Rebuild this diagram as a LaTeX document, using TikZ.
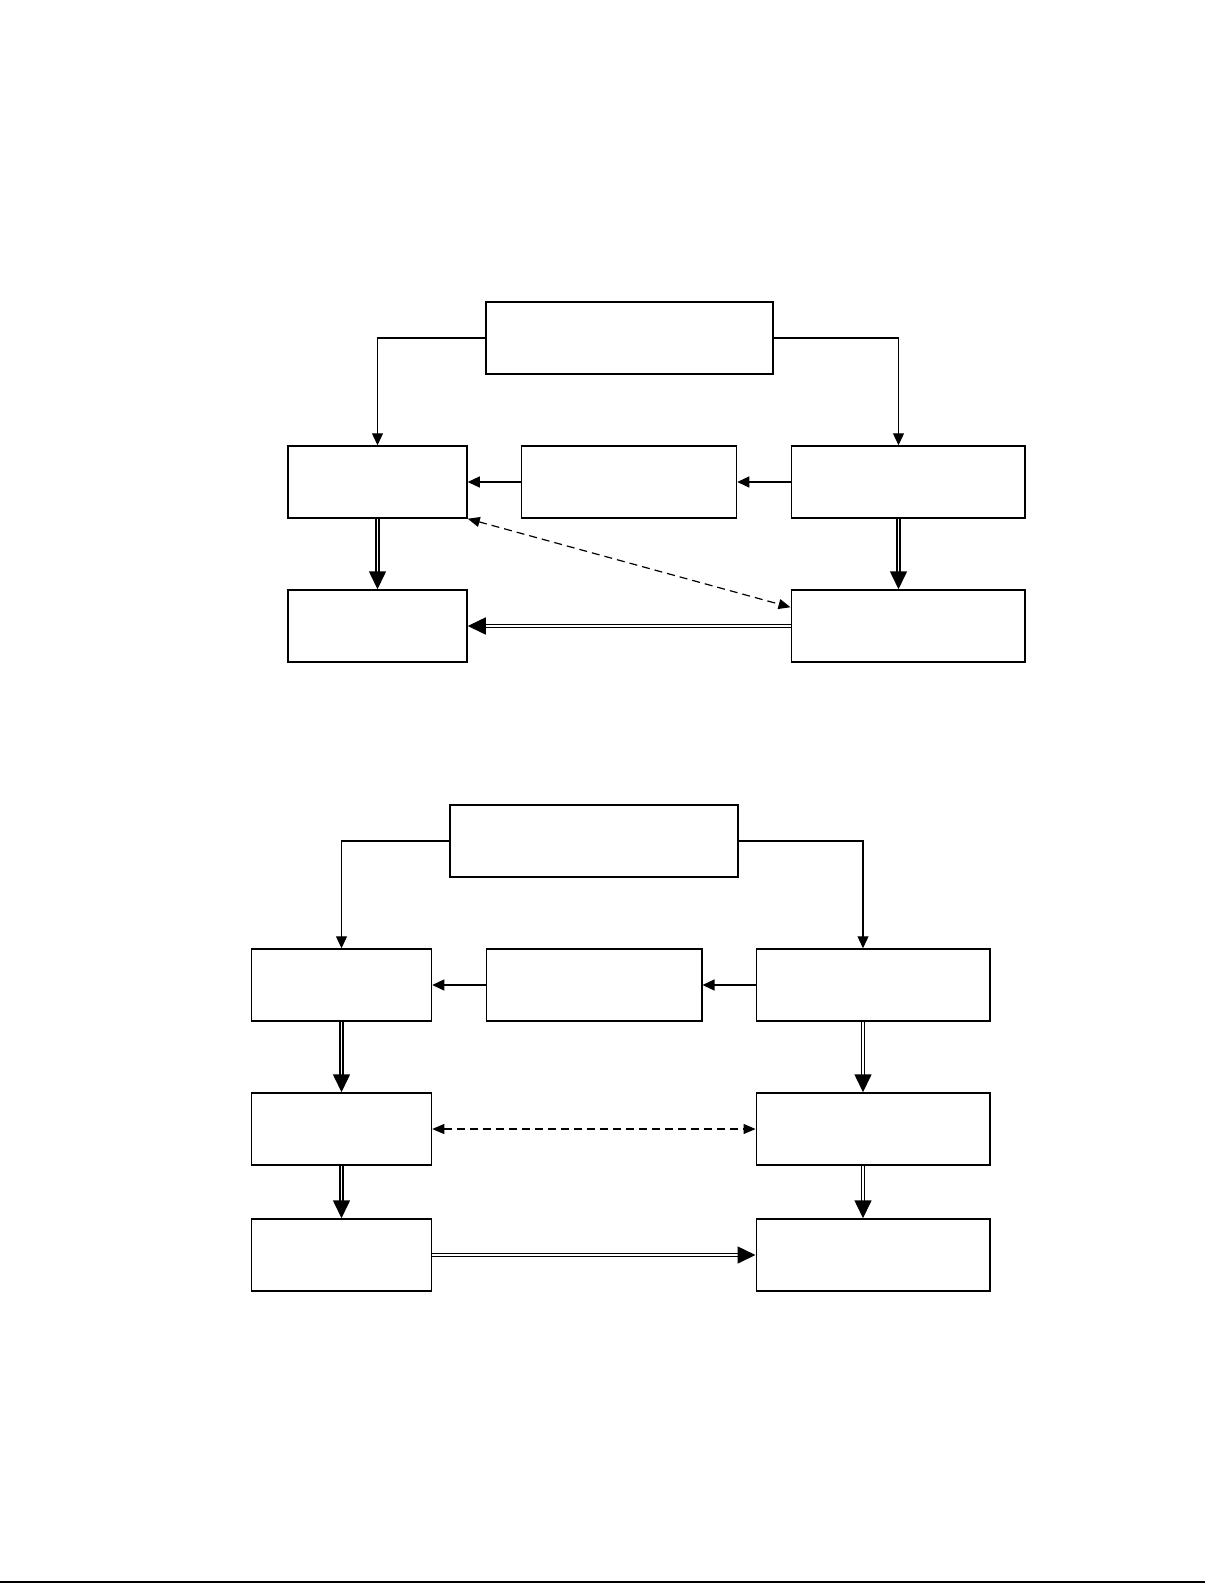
\documentclass[tikz,border=0pt]{standalone}
\usetikzlibrary{arrows.meta,calc}
\tikzset{
  box/.style={draw=black, line width=0.75pt, fill=white, inner sep=0pt, minimum height=36pt},
  thin/.style={draw=black, line width=0.6pt, -{Triangle[width=5.5pt,length=6pt]}},
  dbl/.style={draw=black, line width=0.8pt, double=white, double distance=0.8pt, -{Triangle[width=8.5pt,length=9pt]}},
  dsh/.style={draw=black, line width=0.6pt, dash pattern=on 4pt off 2.5pt, {Triangle[width=5pt,length=6pt]}-{Triangle[width=5pt,length=6pt]}}
}
\begin{document}
\begin{tikzpicture}[x=0.5pt, y=-0.5pt]
\useasboundingbox (0,0) rectangle (1225,1585);
% ---------- diagram 1 ----------
\node[box, minimum width=143.5pt] (T1) at (629.5,338) {};
\node[box, minimum width=89.5pt] (L1) at (377.5,482) {};
\node[box, minimum width=107.5pt] (M1) at (629,482) {};
\node[box, minimum width=116.75pt] (R1) at (908,482) {};
\node[box, minimum width=89.5pt] (LB1) at (377.5,626) {};
\node[box, minimum width=116.75pt] (RB1) at (908,626) {};
\coordinate (R1top) at ($(R1.north)+(-9.5,0)$);
\coordinate (R1bot) at ($(R1.south)+(-9.5,0)$);
\coordinate (RB1top) at ($(RB1.north)+(-9.5,0)$);
\coordinate (RB1in) at ($(RB1.north west)+(0,18)$);
\draw[thin] (T1.west) -| (L1.north);
\draw[thin] (T1.east) -| (R1top);
\draw[thin] (R1.west) -- (M1.east);
\draw[thin] (M1.west) -- (L1.east);
\draw[dbl] (L1.south) -- (LB1.north);
\draw[dbl] (R1bot) -- (RB1top);
\draw[dbl] (RB1.west) -- (LB1.east);
\draw[dsh] (L1.south east) -- (RB1in);
% ---------- diagram 2 ----------
\node[box, minimum width=144pt] (T2) at (594,841) {};
\node[box, minimum width=90pt] (L2) at (341.5,985) {};
\node[box, minimum width=107.75pt] (M2) at (594,985) {};
\node[box, minimum width=116.75pt] (R2) at (873,985) {};
\node[box, minimum width=90pt] (L3) at (341.5,1129) {};
\node[box, minimum width=116.75pt] (R3) at (873,1129) {};
\node[box, minimum width=90pt] (L4) at (341.5,1255) {};
\node[box, minimum width=116.75pt] (R4) at (873,1255) {};
\coordinate (R2top) at ($(R2.north)+(-10,0)$);
\coordinate (R2bot) at ($(R2.south)+(-10,0)$);
\coordinate (R3top) at ($(R3.north)+(-10,0)$);
\coordinate (R3bot) at ($(R3.south)+(-10,0)$);
\coordinate (R4top) at ($(R4.north)+(-10,0)$);
\draw[thin] (T2.west) -| (L2.north);
\draw[thin] (T2.east) -| (R2top);
\draw[thin] (R2.west) -- (M2.east);
\draw[thin] (M2.west) -- (L2.east);
\draw[dbl] (L2.south) -- (L3.north);
\draw[dbl] (R2bot) -- (R3top);
\draw[dbl] (L3.south) -- (L4.north);
\draw[dbl] (R3bot) -- (R4top);
\draw[dsh] (L3.east) -- (R3.west);
\draw[dbl] (L4.east) -- (R4.west);
% bottom rule
\draw[line width=1pt] (0,1582) -- (1205,1582);
\end{tikzpicture}
\end{document}
